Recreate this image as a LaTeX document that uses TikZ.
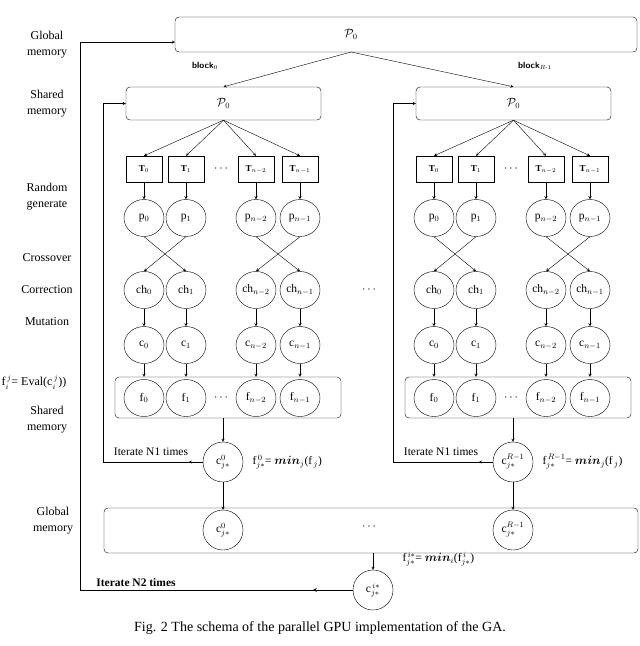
\documentclass[tikz,border=0pt]{standalone}
\usepackage{fontspec}
\setmainfont{Liberation Serif}
\usepackage{amsmath}
\usetikzlibrary{shapes.geometric}
\tikzset{
  mem/.style={draw,rounded corners=4pt,inner sep=0},
  thr/.style={draw,minimum width=36pt,minimum height=26pt,inner sep=0,font=\small\bfseries},
  ell/.style={draw,ellipse,minimum width=40pt,minimum height=37pt,inner sep=0},
  circ/.style={draw,circle,minimum size=40pt,inner sep=0},
  lbl/.style={align=center,font=\fontsize{12}{16}\selectfont},
}
\begin{document}
\begin{tikzpicture}[x=1pt,y=-1pt,>=stealth,font=\fontsize{11.5}{13}\selectfont]
\useasboundingbox (0,0) rectangle (640,646);
% memories
\node[mem,minimum width=462pt,minimum height=35pt] (gm) at (406,34.5) {};
\node (gmP) at (351,34) {$\mathcal{P}_0$};
\coordinate (gmo) at (351,52);
\coordinate (gmin) at (175,42);
\node[font=\small\sffamily\bfseries] (bl0) at (205,66) {block$_0$};
\node[font=\small\sffamily\bfseries] (blR) at (535,66) {block$_{R\text{-}1}$};
\node[mem,minimum width=534pt,minimum height=45pt] (gb) at (371,530.5) {};
\node (gdots) at (370,527) {$\cdots$};
\node (mdots) at (370,290) {$\cdots$};
% left labels
\node[lbl] (l1) at (47,45) {Global\\memory};
\node[lbl] (l2) at (47,104) {Shared\\memory};
\node[lbl] (l3) at (47,197) {Random\\generate};
\node[lbl] (l4) at (47,258) {Crossover};
\node[lbl] (l5) at (47,290) {Correction};
\node[lbl] (l6) at (47,322) {Mutation};
\node[lbl] (l7) at (34,382) {f$^{\,j}_{i}$= Eval(c$^{\,j}_{i}$))};
\node[lbl] (l8) at (47,420) {Shared\\memory};
\node[lbl] (l9) at (53,521) {Global\\memory};
% the two blocks
\foreach \b/\dx/\lab in {L/0/0,R/290/R-1}{
  \node[mem,minimum width=195pt,minimum height=33pt] (sh\b) at ({223.5+\dx},103.5) {$\mathcal{P}_0$};
  \draw[->] (gmo) -- (sh\b.north);
  \node[mem,minimum width=226pt,minimum height=41pt] (fb\b) at ({228+\dx},397.5) {};
  \node (td\b) at ({222+\dx},169) {$\cdots$};
  \node (fd\b) at ({222+\dx},398) {$\cdots$};
  \foreach \i/\x/\s in {a/144/0,b/186/1,c/256/n-2,d/300/n-1}{
    \node[thr] (T\b\i) at ({\x+\dx},169) {T$_{\s}$};
    \node[ell] (p\b\i) at ({\x+\dx},218) {p$_{\s}$};
    \node[ell] (ch\b\i) at ({\x+\dx},290) {ch$_{\s}$};
    \node[ell] (c\b\i) at ({\x+\dx},345) {c$_{\s}$};
    \node[ell] (f\b\i) at ({\x+\dx},398) {f$_{\s}$};
    \draw[->] (sh\b.south) -- (T\b\i.north);
    \draw[->] (T\b\i) -- (p\b\i);
    \draw[->] (ch\b\i) -- (c\b\i);
    \draw[->] (c\b\i) -- (fb\b.north -| c\b\i);
  }
  \draw[->] (p\b a.south) -- (ch\b b.north);
  \draw[->] (p\b b.south) -- (ch\b a.north);
  \draw[->] (p\b c.south) -- (ch\b d.north);
  \draw[->] (p\b d.south) -- (ch\b c.north);
  \node[circ] (cj\b) at ({223+\dx},462) {c$^{\lab}_{j*}$};
  \draw[->] (fb\b.south -| cj\b) -- (cj\b);
  \node[anchor=west] (fm\b) at ({249+\dx},462) {f$^{\,\lab}_{j*}$= $\boldsymbol{min}_j$(f$_{\,j}$)};
  \node[circ] (cg\b) at ({223+\dx},530) {c$^{\lab}_{j*}$};
  \draw[->] (cj\b) -- (cg\b);
  \coordinate (lp\b) at ({103+\dx},462);
  \draw[->] (cj\b.west) -- +(-14,0);
  \draw[->] (cj\b.west) -- (lp\b) |- (sh\b.west);
  \node (it\b) at ({151+\dx},452) {Iterate N1 times};
}
% final
\node[circ] (fin) at (373,590) {c$^{\,i*}_{j*}$};
\draw[->] (gb.south -| fin) -- (fin);
\node[anchor=west] (fmF) at (399,559) {f$^{\,i*}_{j*}$= $\boldsymbol{min}_i$(f$^{\,i}_{j*}$)};
\coordinate (lp2) at (80,590);
\draw[->,thick] (fin.west) -- +(-40,0);
\draw[->] (fin.west) -- (lp2) |- (gmin);
\node[font=\fontsize{11.5}{13}\selectfont\bfseries] (it2) at (136,583) {Iterate N2 times};
% caption
\node[font=\fontsize{14}{16}\selectfont] (cap) at (320,628) {Fig. 2 The schema of the parallel GPU implementation of the GA.};
\end{tikzpicture}
\end{document}
